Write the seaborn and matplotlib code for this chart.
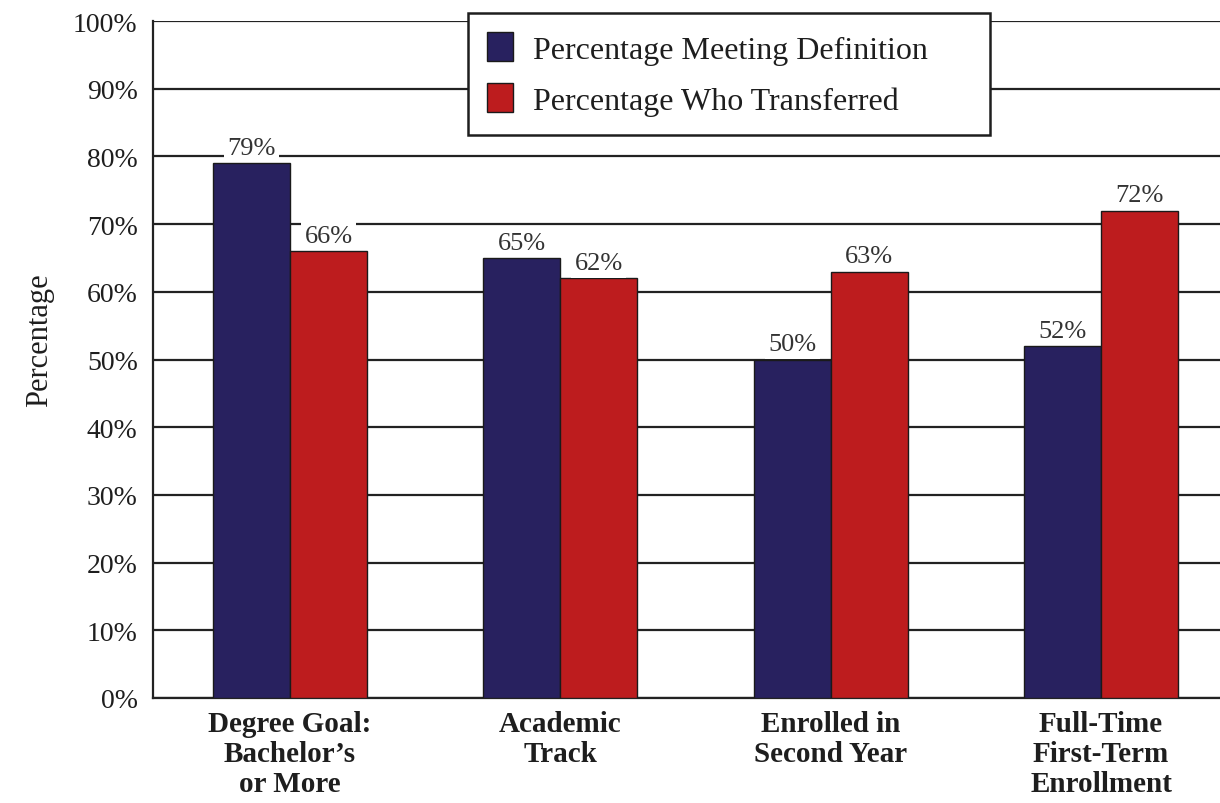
import numpy as np
import pandas as pd
import matplotlib
matplotlib.use("Agg")
import matplotlib.pyplot as plt
import seaborn as sns
from matplotlib.ticker import PercentFormatter

categories = ["Degree Goal:\nBachelor\u2019s\nor More", "Academic\nTrack",
              "Enrolled in\nSecond Year", "Full-Time\nFirst-Term\nEnrollment"]
series_names = ["Percentage Meeting Definition", "Percentage Who Transferred"]
meeting = [79, 65, 50, 52]
transferred = [66, 62, 63, 72]
colors = ["#28215f", "#bd1c1e"]

df = pd.DataFrame({
    "category": categories * 2,
    "series": [series_names[0]] * 4 + [series_names[1]] * 4,
    "value": meeting + transferred,
})

sns.set_theme(style="white")
plt.rcParams["font.family"] = ["Liberation Serif", "DejaVu Serif"]

fig = plt.figure(figsize=(12.2, 8.04), dpi=100, facecolor="white")
ax = fig.add_axes([0.1254, 0.1306, 0.8746, 0.842])

sns.barplot(data=df, x="category", y="value", hue="series", order=categories,
            hue_order=series_names, palette=colors, width=0.57, gap=0,
            edgecolor="#1a1a1a", linewidth=1.0, saturation=1, ax=ax, zorder=3)

ax.set_ylim(0, 100)
ax.set_xlim(-0.507, 3.44)
ax.set_yticks(np.arange(0, 101, 10))
ax.yaxis.set_major_formatter(PercentFormatter(decimals=0))
ax.grid(axis="y", color="#222222", linewidth=1.6, zorder=0)
ax.set_axisbelow(True)

for side in ["top", "right"]:
    ax.spines[side].set_visible(False)
for side in ["left", "bottom"]:
    ax.spines[side].set_color("#222222")
    ax.spines[side].set_linewidth(1.6)

ax.tick_params(axis="y", which="major", direction="out", length=8, width=1.6,
               color="#222222", labelsize=20, labelcolor="#1e1e1e", pad=3)
ax.tick_params(axis="x", length=0, pad=9)
ax.set_xticks(range(len(categories)))
ax.set_xticklabels(categories, fontsize=21, fontweight="bold", color="#1e1e1e",
                   linespacing=1.12)

ax.set_xlabel("")
ax.set_ylabel("Percentage", fontsize=22, color="#1e1e1e")
ax.yaxis.set_label_coords(-0.093, 0.53)

for cont in ax.containers:
    ax.bar_label(cont, fmt="%d%%", fontsize=19, color="#333333", padding=3,
                 bbox=dict(facecolor="white", edgecolor="none", pad=2.5), zorder=4)

# legend box stretched to the reference width
leg = ax.legend(loc="upper left", bbox_to_anchor=(0.3836, 0.9826, 0.428, 0.0),
                bbox_transform=fig.transFigure, borderaxespad=0, mode="expand",
                fontsize=23, frameon=True, fancybox=False, framealpha=1,
                edgecolor="#1e1e1e", handlelength=0.82, handleheight=1.03,
                handletextpad=0.6, labelspacing=0.58, borderpad=0.6, title=None)
leg.get_frame().set_linewidth(1.8)
leg.set_zorder(5)
for t in leg.get_texts():
    t.set_color("#1e1e1e")

fig.savefig("out.png", dpi=100, facecolor="white")
